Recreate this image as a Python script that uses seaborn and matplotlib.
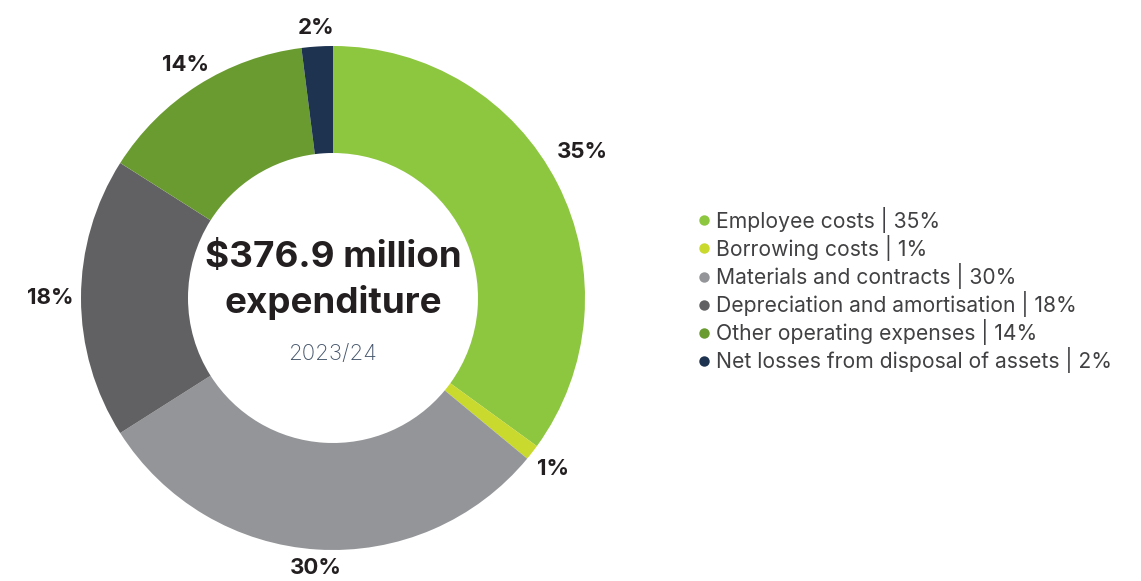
import matplotlib
matplotlib.use("Agg")
import numpy as np
import matplotlib.pyplot as plt
from matplotlib.lines import Line2D
import seaborn as sns

categories = [
    "Employee costs",
    "Borrowing costs",
    "Materials and contracts",
    "Depreciation and amortisation",
    "Other operating expenses",
    "Net losses from disposal of assets",
]
shares = [35, 1, 30, 18, 14, 2]
colors = ["#8DC63F", "#C9D92E", "#939598", "#616163", "#6A9B30", "#1D3350"]

total_label = "$376.9 million"
subtitle = "expenditure"
period = "2023/24"

sns.set_theme(style="white")
plt.rcParams["font.family"] = ["Inter", "DejaVu Sans"]

W, H = 1141, 581
fig = plt.figure(figsize=(W / 100, H / 100), dpi=100)
ax = fig.add_axes([0, 0, 1, 1])

cx, cy = 333, H - 298
R = 252
ring = 107
# radial offset (multiple of outer radius) and angular nudge (deg) of each percentage label
label_dist = [1.147, 1.107, 1.072, 1.123, 1.095, 1.075]
label_nudge = [3.3, 0, 0, 0, 0, 0]

wedges, texts = ax.pie(
    shares,
    colors=colors,
    startangle=90,
    counterclock=False,
    center=(cx, cy),
    radius=R,
    labels=[f"{s}%" for s in shares],
    labeldistance=1.1,
    wedgeprops=dict(width=ring, linewidth=0),
    textprops=dict(fontsize=16, fontweight="bold", color="#231F20"),
    frame=True,
)
for w, t, d, n in zip(wedges, texts, label_dist, label_nudge):
    ang = np.deg2rad((w.theta1 + w.theta2) / 2 + n)
    t.set_position((cx + d * R * np.cos(ang), cy + d * R * np.sin(ang)))
    t.set_ha("center")
    t.set_va("center")

ax.set_xlim(0, W)
ax.set_ylim(0, H)
ax.set_aspect("equal")
ax.axis("off")

ax.text(cx, H - 258, total_label, ha="center", va="center",
        fontsize=26.5, fontweight="bold", color="#231F20")
ax.text(cx, H - 302, subtitle, ha="center", va="center",
        fontsize=26.5, fontweight="bold", color="#231F20")
ax.text(cx, H - 354, period, ha="center", va="center",
        fontsize=16, fontweight="light", color="#44546A")

handles = [
    Line2D([0], [0], marker="o", linestyle="", markersize=7.5,
           markerfacecolor=c, markeredgewidth=0)
    for c in colors
]
labels = [f"{n} | {s}%" for n, s in zip(categories, shares)]
leg = fig.legend(
    handles, labels,
    loc="center left",
    bbox_to_anchor=(686 / W, 1 - 290 / H),
    frameon=False,
    fontsize=15.2,
    handletextpad=0.08,
    handlelength=0.95,
    labelspacing=0.1,
    borderaxespad=0,
)
for t in leg.get_texts():
    t.set_color("#414042")

fig.savefig("out.png", dpi=100)
